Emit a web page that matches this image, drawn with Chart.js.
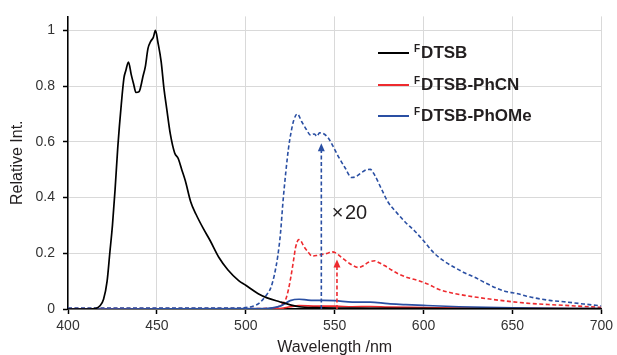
<!DOCTYPE html>
<html>
<head>
<meta charset="utf-8">
<script src="https://cdn.jsdelivr.net/npm/chart.js@4.4.1/dist/chart.umd.min.js"></script>
<style>
    html, body { margin: 0; padding: 0; background: #fff; }
    #wrap { position: relative; width: 617px; height: 355px; }
    #legend { position: absolute; left: 0; top: 0; font-family: "Liberation Sans", Arial, sans-serif; }
    .leg-row { position: absolute; left: 378px; height: 20px; display: flex; align-items: center; white-space: nowrap; }
    .leg-line { width: 31px; height: 2px; margin-right: 5px; }
    .leg-text { font-size: 17px; font-weight: bold; color: #231f20; }
    .leg-text sup { font-size: 10px; vertical-align: 6px; margin-right: 1px; }
</style>
</head>
<body>
<div id="wrap">
    <canvas id="spectraChart" width="617" height="355"></canvas>
    <div id="legend"></div>
</div>
<script>
// FDTSB (black, solid)
var fdtsbWl = [400, 410, 414, 416, 418, 420, 422, 423.5, 425, 426.5, 428, 430, 431.5, 432.5, 434, 435.6, 437, 438.2, 440, 441, 442, 443.5, 445, 446.5, 448, 449.2, 450.5, 452.4, 454, 455.5, 457.5, 460, 462, 464, 466, 469, 472, 476, 480, 485, 490, 496, 500, 507, 512, 519, 525, 530, 540, 560, 600, 650, 700];
var fdtsbInt = [0, 0, 0.001, 0.003, 0.012, 0.035, 0.1, 0.2, 0.3, 0.43, 0.58, 0.736, 0.83, 0.855, 0.886, 0.84, 0.805, 0.777, 0.78, 0.8, 0.83, 0.87, 0.935, 0.96, 0.975, 1.0, 0.96, 0.888, 0.79, 0.72, 0.63, 0.56, 0.54, 0.5, 0.46, 0.385, 0.34, 0.29, 0.245, 0.184, 0.14, 0.102, 0.085, 0.055, 0.04, 0.026, 0.015, 0.008, 0.005, 0.003, 0.002, 0.001, 0.001];

// FDTSB-PhCN (red)
var phcnWl = [400, 510, 516, 520, 522.5, 524, 525.5, 527, 528, 529.8, 531, 532.6, 535, 537.3, 540, 542.9, 546, 548, 550.4, 552, 554.1, 557, 560, 563.4, 566, 569, 572.7, 575, 578.3, 582, 585.8, 590, 597, 603, 608, 613, 618, 623, 630, 641.7, 650, 660, 670, 680, 690, 700];
var phcnX20 = [0.002, 0.002, 0.004, 0.015, 0.035, 0.07, 0.12, 0.18, 0.22, 0.249, 0.245, 0.225, 0.205, 0.19, 0.192, 0.196, 0.2, 0.205, 0.202, 0.195, 0.184, 0.17, 0.157, 0.149, 0.155, 0.168, 0.173, 0.166, 0.155, 0.14, 0.126, 0.115, 0.102, 0.088, 0.072, 0.062, 0.055, 0.049, 0.042, 0.032, 0.026, 0.02, 0.016, 0.013, 0.009, 0.006];
var phcnRawWl = [400, 515, 520, 525, 530, 540, 550, 560, 570, 580, 600, 620, 650, 700];
var phcnRaw = [0, 0, 0.002, 0.008, 0.012, 0.010, 0.010, 0.008, 0.009, 0.007, 0.005, 0.003, 0.002, 0.0005];

// FDTSB-PhOMe (blue)
var phomeWl = [400, 490, 500, 504, 507.4, 511, 514, 516, 518, 519.5, 521, 522.5, 524, 525.5, 527, 529, 531.5, 534, 536.5, 538.5, 540, 541.5, 543.5, 546.5, 549, 552, 556, 559.5, 562, 565, 568, 570, 572.7, 576, 580, 585, 589.5, 595, 600, 606, 612, 617.5, 623, 628.7, 635, 641.7, 647, 653, 658, 664, 671, 679, 690, 700];
var phomeX20 = [0.003, 0.003, 0.005, 0.01, 0.02, 0.045, 0.075, 0.12, 0.19, 0.27, 0.39, 0.49, 0.575, 0.635, 0.677, 0.70, 0.672, 0.645, 0.624, 0.628, 0.62, 0.632, 0.63, 0.613, 0.585, 0.548, 0.505, 0.472, 0.475, 0.489, 0.5, 0.501, 0.478, 0.435, 0.384, 0.345, 0.313, 0.28, 0.245, 0.2, 0.17, 0.149, 0.13, 0.114, 0.093, 0.073, 0.062, 0.055, 0.046, 0.038, 0.031, 0.026, 0.018, 0.011];
var phomeRawWl = [400, 510, 515, 520, 525, 530, 535, 540, 550, 560, 570, 580, 590, 600, 620, 650, 700];
var phomeRaw = [0, 0.001, 0.004, 0.012, 0.03, 0.035, 0.032, 0.031, 0.03, 0.025, 0.025, 0.019, 0.016, 0.013, 0.008, 0.004, 0.001];

// x20 arrows: [wavelength, from, to]
var blueArrow = [542.5, 0, 0.595];
var redArrow = [551.3, 0, 0.178];
var scaleLabel = '×\u200a20';
var scaleLabelPos = [548.3, 0.342];

var xTicks = [400, 450, 500, 550, 600, 650, 700];
var yTicks = [0, 0.2, 0.4, 0.6, 0.8, 1];

var BLACK = '#000000';
var RED = '#ee2a2e';
var BLUE = '#2a4fa3';
var FONT = '"Liberation Sans", Arial, sans-serif';

function toPoints(xs, ys) {
    return xs.map(function(x, i) { return { x: x, y: ys[i] }; });
}

function line(label, xs, ys, color, dashed) {
    return {
        label: label,
        data: toPoints(xs, ys),
        borderColor: color,
        backgroundColor: color,
        borderWidth: dashed ? 1.6 : 1.7,
        borderDash: dashed ? [4, 2.5] : [],
        pointRadius: 0,
        fill: false,
        cubicInterpolationMode: 'monotone'
    };
}

function drawArrow(ctx, xs, ys, arrow, color) {
    var x = xs.getPixelForValue(arrow[0]);
    var y0 = ys.getPixelForValue(arrow[1]);
    var y1 = ys.getPixelForValue(arrow[2]);
    ctx.save();
    ctx.strokeStyle = color;
    ctx.fillStyle = color;
    ctx.lineWidth = 1.6;
    ctx.setLineDash([4, 2.5]);
    ctx.beginPath();
    ctx.moveTo(x, y0);
    ctx.lineTo(x, y1 + 6);
    ctx.stroke();
    ctx.setLineDash([]);
    ctx.beginPath();
    ctx.moveTo(x, y1);
    ctx.lineTo(x - 3.5, y1 + 8);
    ctx.lineTo(x + 3.5, y1 + 8);
    ctx.closePath();
    ctx.fill();
    ctx.restore();
}

var annotations = {
    id: 'annotations',
    afterDatasetsDraw: function(chart) {
        var ctx = chart.ctx;
        var xs = chart.scales.x;
        var ys = chart.scales.y;
        drawArrow(ctx, xs, ys, blueArrow, BLUE);
        drawArrow(ctx, xs, ys, redArrow, RED);
        ctx.save();
        ctx.fillStyle = '#231f20';
        ctx.font = '20px ' + FONT;
        ctx.textBaseline = 'middle';
        ctx.textAlign = 'left';
        ctx.fillText(scaleLabel, xs.getPixelForValue(scaleLabelPos[0]), ys.getPixelForValue(scaleLabelPos[1]));
        ctx.restore();
    }
};

function buildLegend() {
    var items = [
        { name: 'DTSB', color: BLACK, top: 43 },
        { name: 'DTSB-PhCN', color: RED, top: 74.5 },
        { name: 'DTSB-PhOMe', color: BLUE, top: 106 }
    ];
    var box = document.getElementById('legend');
    items.forEach(function(it) {
        var row = document.createElement('div');
        row.className = 'leg-row';
        row.style.top = it.top + 'px';
        row.innerHTML = '<span class="leg-line" style="background:' + it.color + '"></span>' +
            '<span class="leg-text"><sup>F</sup>' + it.name + '</span>';
        box.appendChild(row);
    });
}

function renderChart() {
    var canvas = document.getElementById('spectraChart');
    new Chart(canvas, {
        type: 'line',
        data: {
            datasets: [
                line('FDTSB', fdtsbWl, fdtsbInt, BLACK, false),
                line('FDTSB-PhOMe', phomeRawWl, phomeRaw, BLUE, false),
                line('FDTSB-PhCN', phcnRawWl, phcnRaw, RED, false),
                line('FDTSB-PhOMe x20', phomeWl, phomeX20, BLUE, true),
                line('FDTSB-PhCN x20', phcnWl, phcnX20, RED, true)
            ]
        },
        options: {
            responsive: false,
            animation: false,
            layout: { padding: { top: 11, right: 13, left: 0, bottom: 0 } },
            plugins: { legend: { display: false }, tooltip: { enabled: false } },
            scales: {
                x: {
                    type: 'linear',
                    min: 400,
                    max: 700,
                    afterBuildTicks: function(scale) {
                        scale.ticks = xTicks.map(function(v) { return { value: v }; });
                    },
                    afterFit: function(scale) { scale.height = 46; },
                    grid: { color: '#d9d9d9', lineWidth: 1, tickColor: '#000', tickWidth: 1.5, tickLength: 5 },
                    border: { color: '#000', width: 1.5 },
                    ticks: { color: '#333', font: { family: FONT, size: 14 }, padding: 4, maxRotation: 0 },
                    title: { display: true, text: 'Wavelength /nm', color: '#231f20', font: { family: FONT, size: 16, lineHeight: 1 }, padding: { top: 0, bottom: -1 } }
                },
                y: {
                    min: 0,
                    max: 1.05,
                    afterBuildTicks: function(scale) {
                        scale.ticks = yTicks.map(function(v) { return { value: v }; });
                    },
                    afterFit: function(scale) { scale.width = 68; },
                    grid: { color: '#d9d9d9', lineWidth: 1, tickColor: '#000', tickWidth: 1.5, tickLength: 5 },
                    border: { color: '#000', width: 1.5 },
                    ticks: {
                        color: '#333',
                        font: { family: FONT, size: 14 },
                        padding: 8,
                        callback: function(v) { return String(Math.round(v * 10) / 10); }
                    },
                    title: { display: true, text: 'Relative Int.', color: '#231f20', font: { family: FONT, size: 16, lineHeight: 1 }, padding: { top: 10, bottom: 0 } }
                }
            }
        },
        plugins: [annotations]
    });
}

buildLegend();
renderChart();
</script>
</body>
</html>
